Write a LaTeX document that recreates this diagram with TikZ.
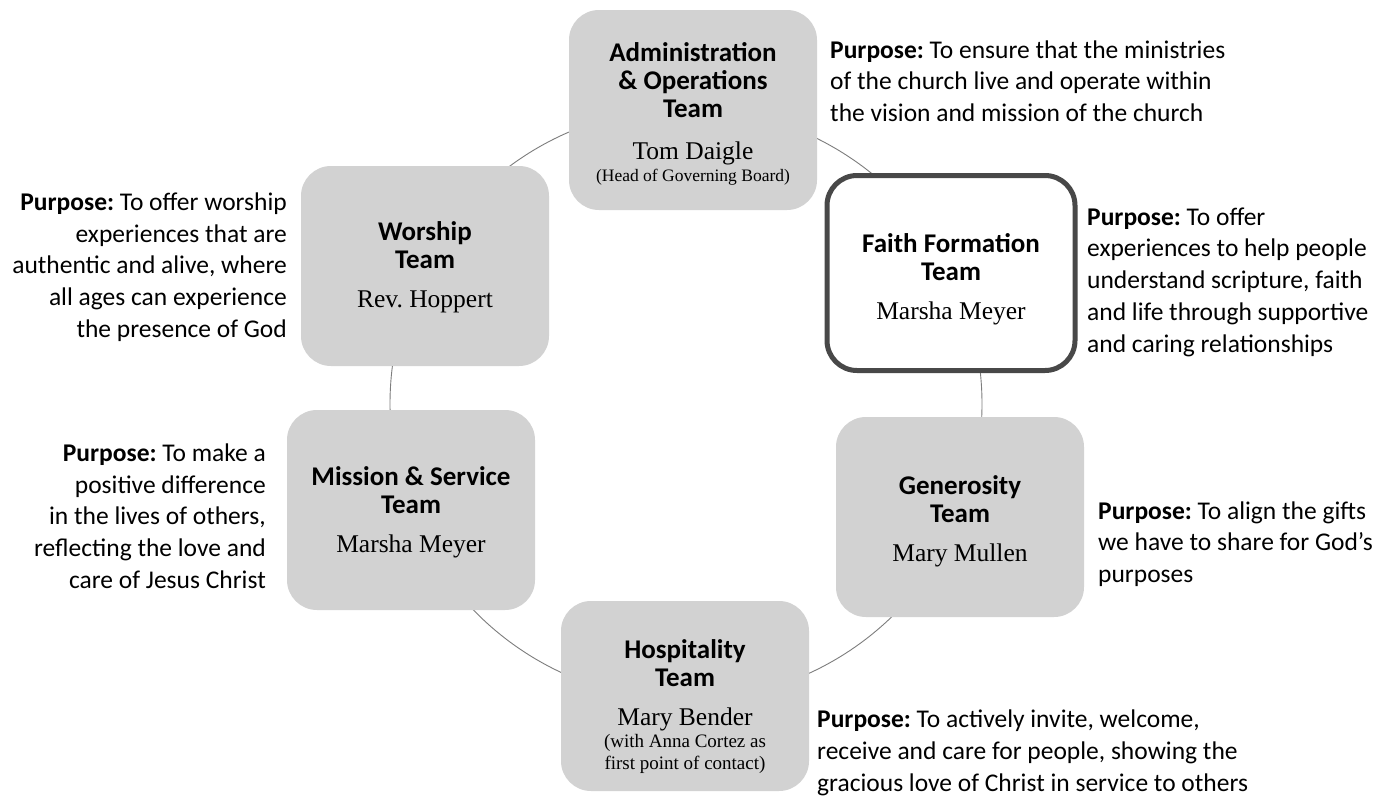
\documentclass[tikz,border=0pt]{standalone}
\usepackage{fontspec}
\setmainfont{Liberation Serif}
\newfontfamily\calfont{Carlito}
\definecolor{boxgray}{RGB}{210,210,210}
\definecolor{edgegray}{RGB}{72,72,72}
\definecolor{linegray}{RGB}{125,125,125}
\newcommand{\ttl}{\calfont\bfseries\fontsize{27}{28}\selectfont}
\newcommand{\nm}{\fontsize{25.5}{28}\selectfont}
\newcommand{\smnm}{\fontsize{19}{22}\selectfont}
\newcommand{\hdnm}{\fontsize{17.5}{20}\selectfont}
\newcommand{\pp}{\textbf{Purpose:}}
\newcommand{\lift}[1]{\rule{0pt}{#1}}
\frenchspacing
\begin{document}
\begin{tikzpicture}[x=1pt,y=-1pt,
  team/.style={rounded corners=30pt, fill=boxgray, minimum width=248pt, minimum height=200pt,
    align=center, inner sep=0pt, font=\fontsize{26}{28}\selectfont},
  faithbox/.style={team, fill=white, draw=edgegray, line width=5pt, minimum width=248pt, minimum height=195pt},
  purpose/.style={inner sep=0pt, font=\calfont\fontsize{25.5}{31.7}\selectfont},
  conn/.style={draw=linegray, line width=0.9pt}]
\useasboundingbox (0,0) rectangle (1382,798);
\fill[white] (0,0) rectangle (1382,798);

% the ring that links the six teams
\coordinate (ring) at (686,404);
\draw[conn] (ring) circle[radius=296pt];

\node[team] (adm) at (693,110) {\lift{26pt}\ttl Administration\\\ttl \& Operations\\\ttl Team\\[14pt]\nm Tom Daigle\\[-6pt]\hdnm (Head of Governing Board)};
\node[faithbox] (fai) at (951,273) {\lift{31pt}\ttl Faith Formation\\\ttl Team\\[11pt]\nm Marsha Meyer};
\node[team] (gen) at (960,517) {\lift{28pt}\ttl Generosity\\\ttl Team\\[11pt]\nm Mary Mullen};
\node[team, minimum height=190pt] (hos) at (685,696) {\lift{40pt}\ttl Hospitality\\\ttl Team\\[11pt]\nm Mary Bender\\[-6pt]\smnm (with Anna Cortez as\\[-6pt]\smnm first point of contact)};
\node[team] (mis) at (411,510) {\lift{24pt}\ttl Mission \& Service\\\ttl Team\\[11pt]\nm Marsha Meyer};
\node[team] (wor) at (425,266) {\lift{22pt}\ttl Worship\\\ttl Team\\[11pt]\nm Rev. Hoppert};

\node[purpose, anchor=west, align=left] (padm) at (830,81) {\pp{} To ensure that the ministries\\ of the church live and operate within\\ the vision and mission of the church};
\node[purpose, anchor=west, align=left] (pfai) at (1087,282) {\pp{} To offer\\ experiences to help people\\ understand scripture, faith\\ and life through supportive\\ and caring relationships};
\node[purpose, anchor=west, align=left] (pgen) at (1098,544) {\pp{} To align the gifts\\ we have to share for God’s\\ purposes};
\node[purpose, anchor=west, align=left] (phos) at (817,753) {\pp{} To actively invite, welcome,\\ receive and care for people, showing the\\ gracious love of Christ in service to others};
\node[purpose, anchor=east, align=right] (pmis) at (266,516) {\pp{} To make a\\ positive difference\\ in the lives of others,\\ reflecting the love and\\ care of Jesus Christ};
\node[purpose, anchor=east, align=right] (pwor) at (287,267) {\pp{} To offer worship\\ experiences that are\\ authentic and alive, where\\ all ages can experience\\ the presence of God};
\end{tikzpicture}
\end{document}
